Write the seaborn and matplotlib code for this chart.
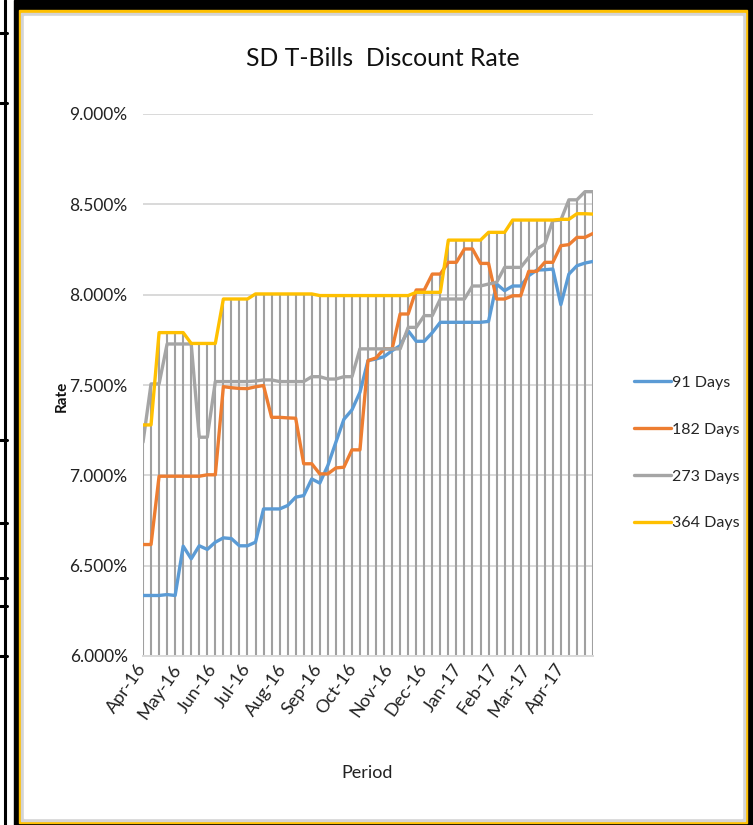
import pandas as pd
import matplotlib
matplotlib.use('Agg')
import matplotlib.pyplot as plt
import matplotlib.dates as mdates
from matplotlib.patches import Rectangle
from matplotlib.lines import Line2D
from matplotlib.ticker import FuncFormatter, MultipleLocator
import seaborn as sns

sns.set_theme(style="white")
plt.rcParams['font.family'] = ['Lato', 'DejaVu Sans']

# ── DATA (weekly auctions, Apr-16 .. Apr-17) ──────────────
dates = pd.date_range('2016-04-01', periods=57, freq='7D')

rate_91 = [6.335, 6.335, 6.335, 6.340, 6.335, 6.608, 6.538, 6.610, 6.590, 6.630,
           6.654, 6.650, 6.610, 6.610, 6.630, 6.814, 6.814, 6.814, 6.833, 6.879,
           6.888, 6.980, 6.957, 7.054, 7.183, 7.310, 7.362, 7.460, 7.635, 7.644,
           7.657, 7.690, 7.718, 7.800, 7.742, 7.742, 7.790, 7.847, 7.847, 7.847,
           7.847, 7.847, 7.847, 7.852, 8.059, 8.022, 8.048, 8.048, 8.105, 8.136,
           8.138, 8.142, 7.945, 8.114, 8.160, 8.175, 8.184]

rate_182 = [6.617, 6.617, 6.995, 6.995, 6.995, 6.995, 6.995, 6.995, 7.003, 7.003,
            7.491, 7.485, 7.481, 7.480, 7.490, 7.497, 7.321, 7.321, 7.318, 7.316,
            7.064, 7.064, 7.008, 7.008, 7.041, 7.045, 7.141, 7.141, 7.635, 7.650,
            7.700, 7.700, 7.893, 7.893, 8.026, 8.026, 8.114, 8.114, 8.179, 8.179,
            8.253, 8.253, 8.173, 8.173, 7.976, 7.976, 7.994, 7.994, 8.129, 8.129,
            8.179, 8.179, 8.271, 8.277, 8.317, 8.317, 8.339]

rate_273 = [7.183, 7.506, 7.506, 7.727, 7.727, 7.727, 7.727, 7.211, 7.211, 7.519,
            7.519, 7.519, 7.519, 7.519, 7.522, 7.528, 7.528, 7.519, 7.519, 7.519,
            7.519, 7.546, 7.546, 7.533, 7.533, 7.546, 7.546, 7.700, 7.700, 7.700,
            7.700, 7.700, 7.700, 7.819, 7.819, 7.884, 7.884, 7.976, 7.976, 7.976,
            7.976, 8.048, 8.048, 8.059, 8.068, 8.151, 8.151, 8.151, 8.206, 8.253,
            8.280, 8.409, 8.413, 8.525, 8.525, 8.570, 8.570]

rate_364 = [7.279, 7.279, 7.790, 7.790, 7.790, 7.790, 7.730, 7.730, 7.730, 7.730,
            7.976, 7.976, 7.976, 7.976, 8.004, 8.004, 8.004, 8.004, 8.004, 8.004,
            8.004, 8.004, 7.995, 7.995, 7.995, 7.995, 7.995, 7.995, 7.995, 7.995,
            7.995, 7.995, 7.995, 7.995, 8.013, 8.013, 8.013, 8.013, 8.302, 8.302,
            8.302, 8.302, 8.302, 8.345, 8.345, 8.345, 8.413, 8.413, 8.413, 8.413,
            8.413, 8.413, 8.417, 8.417, 8.448, 8.448, 8.446]

tenors = ['91 Days', '182 Days', '273 Days', '364 Days']
COLORS = ['#5B9BD5', '#ED7D31', '#A5A5A5', '#FFC000']

df = pd.DataFrame({'Period': dates, '91 Days': rate_91, '182 Days': rate_182,
                   '273 Days': rate_273, '364 Days': rate_364})
long_df = df.melt(id_vars='Period', var_name='Tenor', value_name='Rate')

# ── FIGURE & FRAME ────────────────────────────────────────
W, H = 753, 825
fig = plt.figure(figsize=(W / 100, H / 100), dpi=100)


def box(x0, y0, x1, y1, color):
    # pixel box measured from the top-left corner
    fig.patches.append(Rectangle((x0 / W, 1 - y1 / H), (x1 - x0) / W, (y1 - y0) / H,
                                 transform=fig.transFigure, color=color, zorder=-10))


box(14, 0, 753, 825, 'black')
box(19, 10, 747, 823, '#FFC000')
box(21, 13, 745, 821, '#d4d4d4')
box(24, 16, 742, 818, 'white')

# table border remnants on the far left
fig.add_artist(Line2D([4.5 / W, 4.5 / W], [0, 1], transform=fig.transFigure,
                      color='black', lw=2.2))
for yy in [33, 103, 440, 523, 578, 606, 656]:
    fig.add_artist(Line2D([0, 7 / W], [1 - yy / H, 1 - yy / H],
                          transform=fig.transFigure, color='black', lw=2.2))

# ── CHART ─────────────────────────────────────────────────
ax = fig.add_axes([143 / W, 1 - 656 / H, 450 / W, 542 / H])
ax.set_facecolor('none')

top = df[tenors].max(axis=1)
ax.vlines(df['Period'], 6.0, top, color='#a0a0a0', lw=1.5, zorder=1.5)

sns.lineplot(data=long_df, x='Period', y='Rate', hue='Tenor', hue_order=tenors,
             palette=COLORS, linewidth=2.4, ax=ax, zorder=3)

ax.set_ylim(6.0, 9.0)
ax.set_xlim(dates[0], dates[-1])
ax.yaxis.set_major_locator(MultipleLocator(0.5))
ax.yaxis.set_major_formatter(FuncFormatter(lambda v, p: f'{v:.3f}%'))
ax.xaxis.set_major_locator(mdates.MonthLocator())
ax.xaxis.set_major_formatter(mdates.DateFormatter('%b-%y'))

ax.set_axisbelow(True)
ax.yaxis.grid(True, color='#d9d9d9', lw=1.4)
ax.xaxis.grid(False)
for side in ['top', 'left', 'right']:
    ax.spines[side].set_visible(False)
ax.spines['bottom'].set_color('#d9d9d9')
ax.spines['bottom'].set_linewidth(1.4)

ax.tick_params(axis='y', length=0, pad=11, labelsize=12.5, labelcolor='#222222')
ax.tick_params(axis='x', length=0, pad=7, labelsize=13, labelcolor='#222222',
               labelrotation=55)
plt.setp(ax.get_xticklabels(), ha='right', va='center', rotation_mode='anchor')

ax.set_xlabel('')
ax.set_ylabel('')

handles, labels = ax.get_legend_handles_labels()
ax.legend(handles, labels, loc='center left', bbox_to_anchor=(634 / W, 1 - 453 / H),
          bbox_transform=fig.transFigure, frameon=False, fontsize=11.5,
          handlelength=2.3, handletextpad=0.1, labelspacing=2.05,
          borderpad=0, borderaxespad=0)

fig.text(383 / W, 1 - 58 / H, 'SD T-Bills  Discount Rate', ha='center', va='center',
         fontsize=17.8, color='#111111')
fig.text(367 / W, 1 - 773 / H, 'Period', ha='center', va='center',
         fontsize=13, color='#222222')
fig.text(62 / W, 1 - 396 / H, 'Rate', ha='center', va='center', rotation=90,
         fontsize=11, fontweight='bold', color='#111111')

fig.savefig('out.png', dpi=100)
plt.close()
print("Saved: out.png")
